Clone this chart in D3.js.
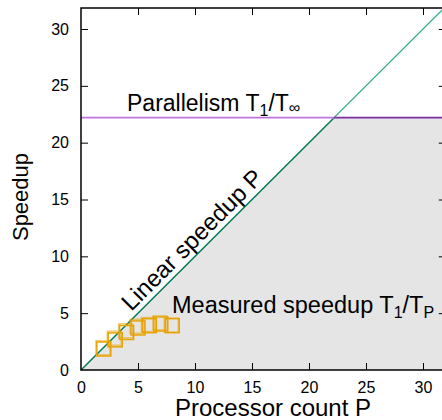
<!DOCTYPE html>
<html>
<head>
<meta charset="utf-8">
<script src="https://cdn.jsdelivr.net/npm/d3@7"></script>
<style>
  body { margin: 0; background: #fff; }
  text { font-family: "Liberation Sans", Arial, sans-serif; fill: #000; }
</style>
</head>
<body>
<script>
// measured speedup, two runs
var procs = [2, 3, 4, 5, 6, 7, 8];
var speedupA = [1.85, 2.65, 3.3, 3.7, 3.9, 4.05, 3.9];
var speedupB = [1.95, 2.8, 3.45, 3.85, 4.0, 4.15, 3.95];
var parallelism = 22.2;
var xTicks = [0, 5, 10, 15, 20, 25, 30];
var yTicks = [0, 5, 10, 15, 20, 25, 30];

var initialize = function(){
  var screen = { width: 442, height: 420 };
  var margins = { top: 8, left: 81, bottom: 50 };

  var svg = d3.select('body')
              .append('svg')
              .attr('width', screen.width)
              .attr('height', screen.height);

  var xScale = d3.scaleLinear()
                 .domain([0, 32])
                 .range([margins.left, margins.left + 32 * 11.4]);
  var yScale = d3.scaleLinear()
                 .domain([0, 30])
                 .range([370, 29]);
  var yTop = yScale.invert(margins.top);
  var xMax = 32;

  var line = d3.line().x(function(d){ return xScale(d[0]); }).y(function(d){ return yScale(d[1]); });

  // grey area under min(P, T1/Tinf)
  var area = [[0, 0], [parallelism, parallelism], [xMax, parallelism], [xMax, 0]];
  svg.append('path')
     .attr('d', line(area) + 'Z')
     .attr('fill', '#e5e5e5');

  // linear speedup
  svg.append('path').attr('d', line([[parallelism, parallelism], [yTop, yTop]]))
     .attr('stroke', '#2bab88').attr('stroke-width', 1.3).attr('fill', 'none');
  svg.append('path').attr('d', line([[0, 0], [parallelism, parallelism]]))
     .attr('stroke', '#007a55').attr('stroke-width', 1.5).attr('fill', 'none');

  // parallelism
  svg.append('path').attr('d', line([[0, parallelism], [parallelism, parallelism]]))
     .attr('stroke', '#bf74e0').attr('stroke-width', 1.6).attr('fill', 'none');
  svg.append('path').attr('d', line([[parallelism, parallelism], [xMax, parallelism]]))
     .attr('stroke', '#7a2fa0').attr('stroke-width', 1.6).attr('fill', 'none');

  // measured squares
  [speedupB, speedupA].forEach(function(series, k){
    svg.append('g')
       .selectAll('rect')
       .data(series)
       .enter()
       .append('rect')
       .attr('x', function(d, i){ return xScale(procs[i] - (k == 0 ? 0.08 : 0)) - 7; })
       .attr('y', function(d){ return yScale(d) - 7; })
       .attr('width', 14)
       .attr('height', 14)
       .attr('fill', 'none')
       .attr('stroke', '#e8a200')
       .attr('stroke-opacity', k == 0 ? 0.55 : 1)
       .attr('stroke-width', 1.5);
  });

  // frame
  var x0 = xScale(0), x1 = xScale(xMax), y0 = yScale(0), y1 = margins.top;
  svg.append('rect')
     .attr('x', x0).attr('y', y1)
     .attr('width', x1 - x0).attr('height', y0 - y1)
     .attr('fill', 'none').attr('stroke', '#000').attr('stroke-width', 1.5);

  var xAxis = d3.axisBottom(xScale).tickValues(xTicks).tickSize(-7).tickPadding(12);
  var gx = svg.append('g')
     .attr('transform', 'translate(0,' + y0 + ')')
     .call(xAxis);
  var xAxisTop = d3.axisTop(xScale).tickValues(xTicks).tickSize(-7).tickFormat('');
  var gxt = svg.append('g')
     .attr('transform', 'translate(0,' + y1 + ')')
     .call(xAxisTop);

  var yAxis = d3.axisLeft(yScale).tickValues(yTicks).tickSize(-7).tickPadding(12);
  var gy = svg.append('g')
     .attr('transform', 'translate(' + x0 + ',0)')
     .call(yAxis);
  var yAxisRight = d3.axisRight(yScale).tickValues(yTicks).tickSize(-7).tickFormat('');
  var gyr = svg.append('g')
     .attr('transform', 'translate(' + x1 + ',0)')
     .call(yAxisRight);

  [gx, gxt, gy, gyr].forEach(function(g){
    g.select('.domain').remove();
    g.selectAll('line').attr('stroke', '#000').attr('stroke-width', 1);
    g.selectAll('text').attr('font-size', 16).attr('font-family', '"Liberation Sans", Arial, sans-serif').attr('fill', '#000');
    g.selectAll('line').filter(function(d){ return d == 0; }).remove();
  });

  // axis titles
  svg.append('text')
     .attr('x', 273).attr('y', 416)
     .attr('text-anchor', 'middle')
     .attr('font-size', 24)
     .text('Processor count P');
  svg.append('text')
     .attr('transform', 'translate(28,197) rotate(-90)')
     .attr('text-anchor', 'middle')
     .attr('font-size', 22)
     .text('Speedup');

  // annotations
  var par = svg.append('text')
     .attr('x', 127).attr('y', 111)
     .attr('font-size', 23);
  par.append('tspan').text('Parallelism T');
  par.append('tspan').attr('font-size', 16).attr('dy', 5).text('1');
  par.append('tspan').attr('dy', -5).text('/T');
  par.append('tspan').attr('font-size', 16).attr('dy', 2).text('∞');

  var mea = svg.append('text')
     .attr('x', 172).attr('y', 313)
     .attr('font-size', 23.5);
  mea.append('tspan').text('Measured speedup T');
  mea.append('tspan').attr('font-size', 16).attr('dy', 5).text('1');
  mea.append('tspan').attr('dy', -5).text('/T');
  mea.append('tspan').attr('font-size', 16).attr('dy', 5).text('P');

  var angle = -Math.atan2(yScale(0) - yScale(10), xScale(10) - xScale(0)) * 180 / Math.PI;
  svg.append('text')
     .attr('transform', 'translate(' + (xScale(10.6) - 4) + ',' + (yScale(10.6) - 4) + ') rotate(' + angle + ')')
     .attr('text-anchor', 'middle')
     .attr('font-size', 24)
     .text('Linear speedup P');
}

initialize();
</script>
</body>
</html>
